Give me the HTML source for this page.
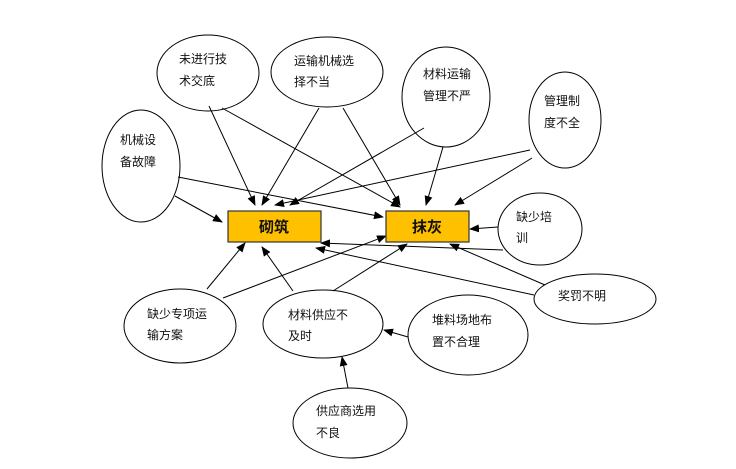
<!DOCTYPE html>
<html><head><meta charset="utf-8"><style>
body{margin:0;background:#fff;}
svg text{font-family:"Liberation Sans","Noto Sans CJK SC",sans-serif;font-size:12px;fill:#111;}
</style></head><body>
<svg width="736" height="464" viewBox="0 0 736 464" xmlns="http://www.w3.org/2000/svg">
<defs><marker id="a" markerWidth="10" markerHeight="8" refX="9" refY="4" orient="auto" markerUnits="userSpaceOnUse"><path d="M0,0 L10,4 L0,8 z" fill="#000"/></marker></defs>
<g fill="#fff" stroke="#000" stroke-width="1">
<ellipse cx="208" cy="73" rx="51" ry="38"/>
<ellipse cx="327" cy="72" rx="56" ry="35"/>
<ellipse cx="446" cy="97" rx="44" ry="50"/>
<ellipse cx="565" cy="120" rx="36" ry="48"/>
<ellipse cx="141" cy="166" rx="39" ry="56"/>
<ellipse cx="540" cy="229" rx="42" ry="36"/>
<ellipse cx="595" cy="299" rx="61" ry="25"/>
<ellipse cx="180" cy="326" rx="56" ry="37"/>
<ellipse cx="323" cy="324" rx="60" ry="34"/>
<ellipse cx="468" cy="335" rx="60" ry="40"/>
<ellipse cx="350" cy="423" rx="57" ry="35"/>
</g>
<g stroke="#000" stroke-width="1" marker-end="url(#a)" fill="none">
<line x1="209" y1="106" x2="255" y2="205"/>
<line x1="222" y1="108" x2="400" y2="207"/>
<line x1="319" y1="108" x2="262" y2="205"/>
<line x1="343" y1="108" x2="400" y2="205"/>
<line x1="424" y1="128" x2="290" y2="205"/>
<line x1="443" y1="147" x2="426" y2="205"/>
<line x1="530" y1="150" x2="275" y2="205"/>
<line x1="532" y1="158" x2="455" y2="205"/>
<line x1="178" y1="177" x2="383" y2="217"/>
<line x1="175" y1="196" x2="222" y2="222"/>
<line x1="498" y1="227" x2="470" y2="229"/>
<line x1="503" y1="250" x2="321" y2="243"/>
<line x1="534" y1="295" x2="316" y2="248"/>
<line x1="545" y1="285" x2="450" y2="244"/>
<line x1="207" y1="289" x2="245" y2="243"/>
<line x1="223" y1="298" x2="386" y2="236"/>
<line x1="293" y1="291" x2="262" y2="247"/>
<line x1="333" y1="291" x2="407" y2="244"/>
<line x1="408" y1="337" x2="384" y2="330"/>
<line x1="348" y1="388" x2="342" y2="357"/>
</g>
<rect x="228" y="211" width="93" height="31" fill="#FFC000" stroke="#333" stroke-width="1.2"/>
<rect x="386" y="211" width="83" height="31" fill="#FFC000" stroke="#333" stroke-width="1.2"/>
<text x="274" y="232" text-anchor="middle" style="font-size:15px;font-weight:bold">砌筑</text>
<text x="427" y="232" text-anchor="middle" style="font-size:15px;font-weight:bold">抹灰</text>
<text x="179" y="63">未进行技</text><text x="179" y="85">术交底</text>
<text x="294" y="65">运输机械选</text><text x="294" y="86">择不当</text>
<text x="423" y="78">材料运输</text><text x="423" y="100">管理不严</text>
<text x="544" y="105">管理制</text><text x="544" y="127">度不全</text>
<text x="120" y="144">机械设</text><text x="120" y="166">备故障</text>
<text x="516" y="221">缺少培</text><text x="516" y="242">训</text>
<text x="558" y="300">奖罚不明</text>
<text x="147" y="318">缺少专项运</text><text x="147" y="339">输方案</text>
<text x="288" y="319">材料供应不</text><text x="288" y="340">及时</text>
<text x="432" y="324">堆料场地布</text><text x="432" y="346">置不合理</text>
<text x="316" y="415">供应商选用</text><text x="316" y="437">不良</text>
</svg>
</body></html>
